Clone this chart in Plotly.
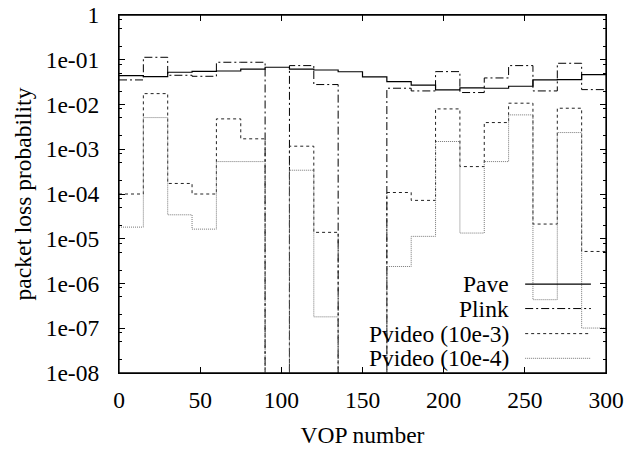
import plotly.graph_objects as go

# Segment start positions (VOP number), step width 15
vop = [0, 15, 30, 45, 60, 75, 90, 105, 120, 135, 150, 165, 180, 195, 210, 225, 240, 255, 270, 285, 300]

pave = [0.0442, 0.042, 0.0525, 0.055, 0.056, 0.062, 0.068, 0.062, 0.059, 0.054,
        0.0413, 0.0325, 0.027, 0.0212, 0.0235, 0.0231, 0.0256, 0.0354, 0.036, 0.0465]
plink = [0.0354, 0.1135, 0.045, 0.0427, 0.0879, 0.0879, 0.0, 0.074, 0.0279, 0.0,
         0.0, 0.0231, 0.0201, 0.0543, 0.0185, 0.0392, 0.074, 0.0201, 0.0834, 0.0215]
pvideo_3 = [1.0e-4, 0.0175, 1.72e-4, 1.0e-4, 4.77e-3, 1.71e-3, 0.0, 1.17e-3, 1.39e-5, 0.0,
            0.0, 1.08e-4, 7.2e-5, 7.97e-3, 4.1e-4, 3.95e-3, 0.0107, 2.13e-5, 8.26e-3, 5.2e-6]
pvideo_4 = [1.82e-5, 5.1e-3, 3.43e-5, 1.64e-5, 5.3e-4, 5.3e-4, 0.0, 3.4e-4, 1.8e-7, 0.0,
            0.0, 2.4e-6, 1.13e-5, 1.49e-3, 1.34e-5, 5.3e-4, 5.86e-3, 4.35e-7, 2.36e-3, 1.01e-7]

names = ["Pave", "Plink", "Pvideo (10e-3)", "Pvideo (10e-4)"]
series = [pave, plink, pvideo_3, pvideo_4]
styles = [
    dict(color="#000000", width=1.2, dash="solid"),
    dict(color="#000000", width=1.0, dash="8px,3px,2px,3px"),
    dict(color="#222222", width=1.0, dash="3px,3px"),
    dict(color="#777777", width=1.0, dash="1px,1px"),
]

x_ticks = [0, 50, 100, 150, 200, 250, 300]
ytick_vals = [1e-8, 1e-7, 1e-6, 1e-5, 1e-4, 1e-3, 1e-2, 1e-1, 1]
ytick_text = ["1e-08", "1e-07", "1e-06", "1e-05", "1e-04", "1e-03", "1e-02", "1e-01", "1"]

FLOOR = 1e-12  # zero probability drawn down past the axis bottom
FONT = "Liberation Serif, Times New Roman, Times, serif"
FS = 23.5

fig = go.Figure()
for name, vals, st in zip(names, series, styles):
    y = [v if v > 0 else FLOOR for v in vals] + [vals[-1] if vals[-1] > 0 else FLOOR]
    fig.add_trace(go.Scatter(x=vop, y=y, mode="lines", name=name,
                             line=dict(shape="hv", **st), showlegend=False,
                             cliponaxis=True))

# invisible carrier trace so the mirrored (top/right) tick axes get drawn
fig.add_trace(go.Scatter(x=vop[:1], y=pave[:1], xaxis="x2", yaxis="y2", mode="lines",
                         line=dict(width=0), showlegend=False, hoverinfo="skip"))

# gnuplot-style key: right-aligned text with line sample to the right
key_y = [0.248, 0.180, 0.110, 0.041]
for name, st, ky in zip(names, styles, key_y):
    fig.add_annotation(text=name, xref="paper", yref="paper", x=0.804, y=ky,
                       xanchor="right", yanchor="middle", showarrow=False,
                       font=dict(family=FONT, size=FS, color="black"))
    fig.add_shape(type="line", xref="paper", yref="paper", x0=0.834, x1=0.969,
                  y0=ky, y1=ky, line=st)

# plot frame
fig.add_shape(type="rect", xref="paper", yref="paper", x0=0, x1=1, y0=0, y1=1,
              line=dict(color="black", width=1.3), fillcolor="rgba(0,0,0,0)",
              layer="above")

minor_vals = []
for e in range(-8, 0):
    for m in (2, 5, 8):
        minor_vals.append(m * 10 ** e)

common_x = dict(range=[0, 300], tickvals=x_ticks, ticks="inside", ticklen=6,
                tickcolor="black", showline=True, linecolor="black", linewidth=1.3,
                showgrid=False, zeroline=False, automargin=False)
common_y = dict(type="log", range=[-8, 0], tickvals=ytick_vals, ticks="inside",
                ticklen=6, tickcolor="black", showline=True, linecolor="black",
                linewidth=1.3, showgrid=False, zeroline=False, automargin=False,
                minor=dict(tickvals=minor_vals, ticks="inside", ticklen=3,
                           tickcolor="black", showgrid=False))

fig.update_layout(
    width=643, height=450,
    margin=dict(l=119, r=37, t=15, b=77, autoexpand=False),
    plot_bgcolor="white", paper_bgcolor="white",
    font=dict(family=FONT, size=FS, color="black"),
    xaxis=dict(**common_x, ticklabelstandoff=6,
               title=dict(text="VOP number", standoff=14,
                          font=dict(family=FONT, size=FS, color="black"))),
    yaxis=dict(**common_y, ticktext=ytick_text, ticklabelstandoff=14,
               title=dict(text="packet loss probability", standoff=7,
                          font=dict(family=FONT, size=FS, color="black"))),
    xaxis2=dict(**common_x, overlaying="x", side="top", anchor="y2",
                showticklabels=False),
    yaxis2=dict(**common_y, overlaying="y", side="right", anchor="x2",
                showticklabels=False),
)

fig.write_html("out.html", config={"displayModeBar": False},
               post_script="document.body.style.margin='0';document.body.style.overflow='hidden';")
